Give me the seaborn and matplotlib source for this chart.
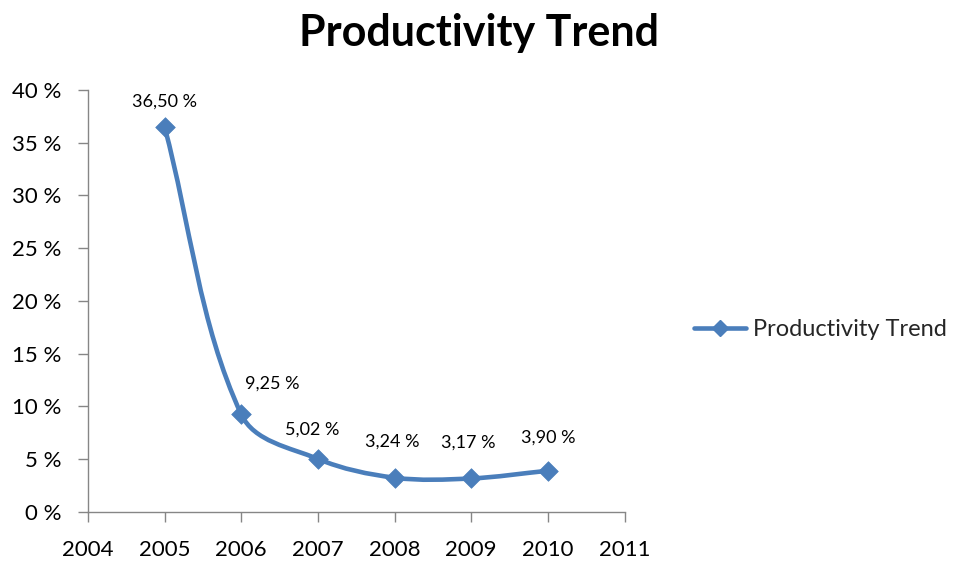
import numpy as np
import matplotlib
matplotlib.use("Agg")
import matplotlib.pyplot as plt
from matplotlib.path import Path
from matplotlib.patches import PathPatch
from matplotlib.lines import Line2D
import seaborn as sns

# --- data ---
years = [2005, 2006, 2007, 2008, 2009, 2010]
productivity = [36.50, 9.25, 5.02, 3.24, 3.17, 3.90]
series_name = "Productivity Trend"
x_ticks = [2004, 2005, 2006, 2007, 2008, 2009, 2010, 2011]
y_ticks = [0, 5, 10, 15, 20, 25, 30, 35, 40]

# label offsets (points) from each marker, as placed in the reference
label_offsets = [(0, 18), (22, 22), (-4, 21), (-2, 26), (-2, 26), (0, 24)]

BLUE = "#4A7EBB"
AXIS_GREY = "#868686"

sns.set_theme(style="white")
plt.rcParams["font.family"] = ["Lato", "DejaVu Sans"]


def smooth_path(ax, xs, ys, k=0.34):
    """Excel-like smoothed line. Tangents are worked out in screen space and
    scaled by chord length, then the Bezier is mapped back to data space."""
    to_px = ax.transData
    pts = to_px.transform(np.column_stack([xs, ys]).astype(float))
    n = len(pts)
    tangents = []
    for i in range(n):
        a = pts[max(i - 1, 0)]
        b = pts[min(i + 1, n - 1)]
        d = b - a
        tangents.append(d / np.hypot(*d))
    verts = [pts[0]]
    codes = [Path.MOVETO]
    for i in range(n - 1):
        p1, p2 = pts[i], pts[i + 1]
        chord = np.hypot(*(p2 - p1))
        verts += [p1 + tangents[i] * chord * k,
                  p2 - tangents[i + 1] * chord * k,
                  p2]
        codes += [Path.CURVE4] * 3
    verts = to_px.inverted().transform(np.array(verts))
    return Path(verts, codes)


fig = plt.figure(figsize=(9.55, 5.65), dpi=100)
ax = fig.add_axes([0.092, 0.094, 0.562, 0.747])
ax.set_xlim(2004, 2011)
ax.set_ylim(0, 40)

# smoothed connecting line
ax.add_patch(PathPatch(smooth_path(ax, years, productivity), facecolor="none",
                       edgecolor=BLUE, lw=3.3, capstyle="round", zorder=2))

# markers
sns.scatterplot(x=years, y=productivity, marker="D", s=100, color=BLUE,
                edgecolor=BLUE, linewidth=0.5, ax=ax, zorder=3, legend=False)

# data labels
for x, y, off in zip(years, productivity, label_offsets):
    ax.annotate(f"{y:.2f}".replace(".", ",") + " %", (x, y),
                xytext=off, textcoords="offset points",
                ha="center", va="center", fontsize=13, color="black")

ax.set_xticks(x_ticks)
ax.set_xticklabels([str(t) for t in x_ticks])
ax.set_yticks(y_ticks)
ax.set_yticklabels([f"{t} %" for t in y_ticks])
ax.tick_params(axis="x", which="major", direction="out", length=7, width=1,
               color=AXIS_GREY, pad=13, labelsize=16, labelcolor="black",
               bottom=True)
ax.tick_params(axis="y", which="major", direction="out", length=7, width=1,
               color=AXIS_GREY, pad=12, labelsize=16, labelcolor="black",
               left=True)

for side in ["top", "right"]:
    ax.spines[side].set_visible(False)
for side in ["left", "bottom"]:
    ax.spines[side].set_color(AXIS_GREY)
    ax.spines[side].set_linewidth(1)

ax.grid(False)

fig.text(0.502, 0.942, "Productivity Trend", ha="center", va="center",
         fontsize=31, fontweight="bold", color="black")

handle = Line2D([0], [0], color=BLUE, lw=3.3, marker="D", markersize=8.5,
                markerfacecolor=BLUE, markeredgecolor=BLUE)
fig.legend([handle], [series_name], loc="center left",
           bbox_to_anchor=(0.722, 0.416), frameon=False, fontsize=17,
           handlelength=2.2, handletextpad=0.3, borderpad=0.2,
           borderaxespad=0.0)

fig.savefig("out.png", dpi=100)
